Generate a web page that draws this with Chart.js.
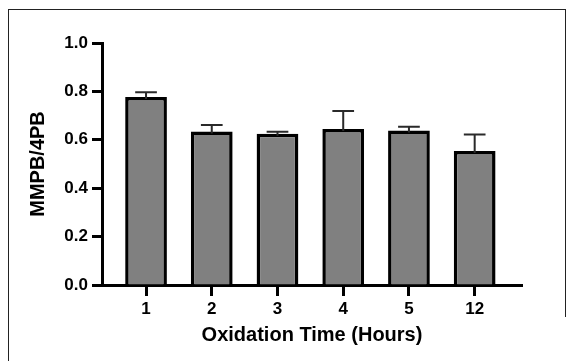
<!DOCTYPE html>
<html>
<head>
<meta charset="utf-8">
<script src="https://cdn.jsdelivr.net/npm/chart.js@4"></script>
<style>
  body { margin: 0; background: #fff; }
  #wrap { position: relative; width: 568px; height: 361px; overflow: hidden; }
  #frame { position: absolute; left: 8px; top: 9px; width: 556px; height: 400px;
           border-left: 1.5px solid #222; border-top: 1.5px solid #222; }
  #frameRight { position: absolute; left: 565px; top: 9px; width: 0; height: 308px;
                border-left: 1.5px solid #222; }
  canvas { position: absolute; left: 0; top: 0; }
</style>
</head>
<body>
<div id="wrap">
  <div id="frame"></div>
  <div id="frameRight"></div>
  <canvas id="myChart" width="568" height="361"></canvas>
</div>
<script>
// 資料：氧化時間 (小時) 與 MMPB/4PB 比值
const timeLabels = ['1', '2', '3', '4', '5', '12'];
const ratioMean = [0.777, 0.634, 0.625, 0.645, 0.638, 0.554];
const ratioError = [0.019, 0.027, 0.008, 0.074, 0.016, 0.068];
const yTickValues = [0, 0.2, 0.4, 0.6, 0.8, 1.0];

const FONT = '"Liberation Sans", Arial, Helvetica, sans-serif';

// 誤差線 (只畫向上)
const errorBarPlugin = {
    id: 'errorBars',
    afterDatasetsDraw(chart) {
        const ctx = chart.ctx;
        const meta = chart.getDatasetMeta(0);
        const yScale = chart.scales.y;
        ctx.save();
        ctx.strokeStyle = '#2a2a2a';
        ctx.lineWidth = 2;
        meta.data.forEach((bar, i) => {
            const top = yScale.getPixelForValue(ratioMean[i] + ratioError[i]);
            const half = bar.width * 0.26;
            ctx.beginPath();
            ctx.moveTo(bar.x, bar.y + 2);
            ctx.lineTo(bar.x, top);
            ctx.moveTo(bar.x - half, top);
            ctx.lineTo(bar.x + half, top);
            ctx.stroke();
        });
        ctx.restore();
    }
};

const ctx = document.getElementById('myChart').getContext('2d');
const myChart = new Chart(ctx, {
    type: 'bar',
    data: {
        datasets: [{
            data: ratioMean.map((v, i) => ({ x: i, y: v })),
            backgroundColor: '#808080',
            borderColor: '#000',
            borderWidth: 3.5,
            borderSkipped: 'start',
            barPercentage: 0.635,
            categoryPercentage: 1
        }]
    },
    options: {
        responsive: false,
        animation: false,
        layout: { padding: { top: 43, right: 46, left: 0, bottom: 0 } },
        plugins: {
            legend: { display: false },
            tooltip: { enabled: false }
        },
        scales: {
            x: {
                type: 'linear',
                offset: false,
                min: -0.67,
                max: 5.72,
                afterBuildTicks: (scale) => {
                    scale.ticks = timeLabels.map((t, i) => ({ value: i }));
                },
                afterFit: (scale) => {
                    scale.height = 76;
                    scale.paddingLeft = 0;
                    scale.paddingRight = 0;
                },
                ticks: {
                    callback: (v) => timeLabels[v],
                    color: '#000',
                    font: { family: FONT, size: 17, weight: 'bold' },
                    padding: 3,
                    maxRotation: 0
                },
                grid: {
                    offset: false,
                    drawOnChartArea: false,
                    tickLength: 11,
                    tickWidth: 3,
                    color: '#000'
                },
                border: { display: true, width: 3, color: '#000' },
                title: {
                    display: true,
                    text: 'Oxidation Time (Hours)',
                    color: '#000',
                    font: { family: FONT, size: 20, weight: 'bold' },
                    padding: { top: 0, bottom: 14 }
                }
            },
            y: {
                min: 0,
                max: 1,
                afterBuildTicks: (scale) => {
                    scale.ticks = yTickValues.map(v => ({ value: v }));
                },
                afterFit: (scale) => {
                    scale.width = 102;
                    scale.paddingTop = 0;
                    scale.paddingBottom = 0;
                },
                ticks: {
                    callback: (v) => v.toFixed(1),
                    color: '#000',
                    font: { family: FONT, size: 17, weight: 'bold' },
                    padding: 4
                },
                grid: {
                    drawOnChartArea: false,
                    tickLength: 10,
                    tickWidth: 3,
                    color: '#000'
                },
                border: { display: true, width: 3, color: '#000' },
                title: {
                    display: true,
                    text: 'MMPB/4PB',
                    color: '#000',
                    font: { family: FONT, size: 20, weight: 'bold' },
                    padding: { top: 26, bottom: 0 }
                }
            }
        }
    },
    plugins: [errorBarPlugin]
});
</script>
</body>
</html>
